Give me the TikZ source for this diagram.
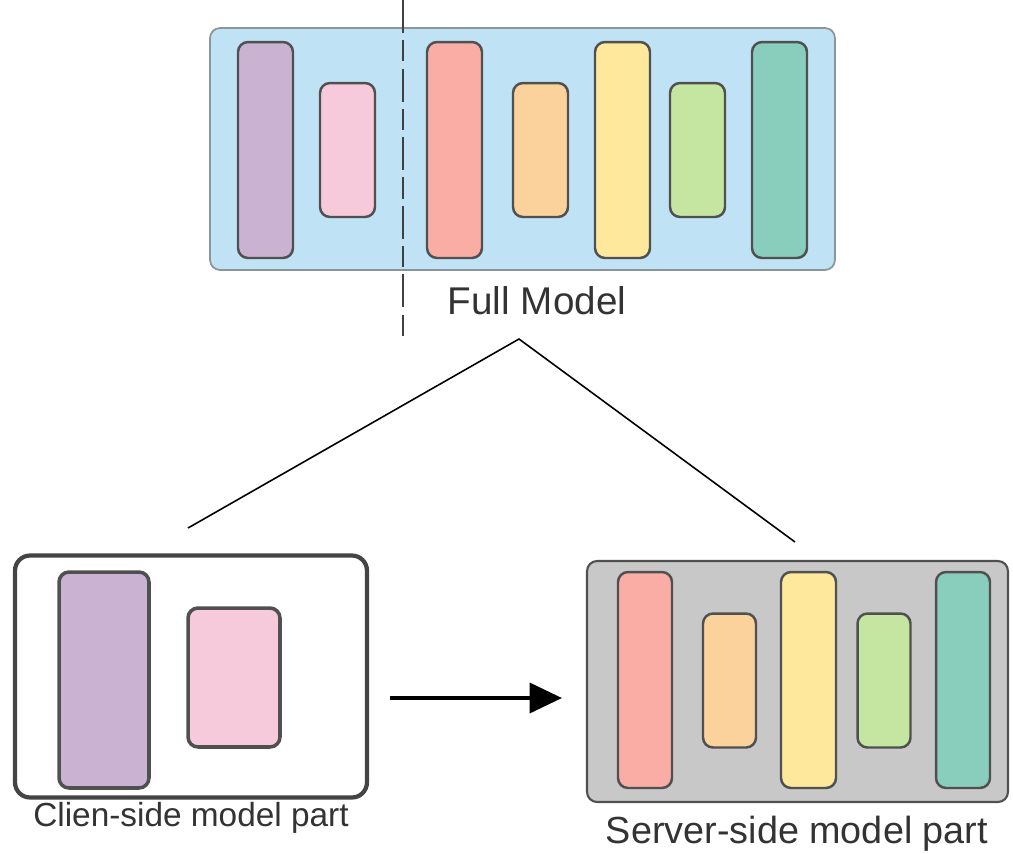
\documentclass[tikz,border=0pt]{standalone}
\usepackage{fontspec}
\setmainfont{Liberation Sans}
\usetikzlibrary{arrows.meta}

\definecolor{boxblue}{HTML}{BFE2F4}
\definecolor{boxgray}{HTML}{C8C8C8}
\definecolor{edgegray}{HTML}{505050}
\definecolor{lpurple}{HTML}{C9B2D2}
\definecolor{lpink}{HTML}{F6CADB}
\definecolor{lred}{HTML}{F9ADA5}
\definecolor{lorange}{HTML}{FBD19C}
\definecolor{lyellow}{HTML}{FEE89C}
\definecolor{lgreen}{HTML}{C5E6A0}
\definecolor{lteal}{HTML}{89CDBC}

\begin{document}
\begin{tikzpicture}[x = 0.02cm, y = -0.02cm, % pixel grid, y downwards
                > = {Triangle[length=6.5mm, width=6mm]}, % arrow head style
                semithick % line style
            ]

            \tikzstyle{every node}=[inner sep = 0pt, outer sep = 0pt,
            text = black!80]
            \tikzstyle{layer}=[draw = edgegray, line width = 1.4pt,
            rounded corners = 2mm, minimum width = 1.1cm]
            \tikzstyle{tall}=[layer, minimum height = 4.32cm]
            \tikzstyle{short}=[layer, minimum height = 2.68cm]
            \tikzstyle{model}=[rounded corners = 2mm, minimum height = 4.84cm]

            \useasboundingbox (0,0) rectangle (1013,853);

            % full model
            \node[model, draw = gray!90!cyan, line width = 1pt, fill = boxblue,
            minimum width = 12.5cm] (full) at (522.5,149) {};
            \node[tall, fill = lpurple] (f1) at (265.5,150) {};
            \node[short, fill = lpink] (f2) at (347.5,150) {};
            \node[tall, fill = lred] (f3) at (454.5,150) {};
            \node[short, fill = lorange] (f4) at (540.5,150) {};
            \node[tall, fill = lyellow] (f5) at (622.5,150) {};
            \node[short, fill = lgreen] (f6) at (697.5,150) {};
            \node[tall, fill = lteal] (f7) at (779.5,150) {};
            \node[font = \fontsize{22}{26}\selectfont] (fulltxt) at (537,301)
            {Full Model};

            % cut line
            \coordinate (cutTop) at (403,0); \coordinate (cutBot) at (403,340);
            \draw[line width = 0.8pt, black!75,
            dash pattern = on 19pt off 4pt on 12pt off 4pt] (cutTop) -- (cutBot);

            % split
            \coordinate (apex) at (519,339); \coordinate (cliEnd) at (188,528);
            \coordinate (srvEnd) at (795,542);
            \draw[line width = 0.9pt] (cliEnd) -- (apex) -- (srvEnd);

            % client side
            \node[model, draw = edgegray!85!black, line width = 2.4pt, fill = white,
            rounded corners = 3mm, minimum width = 7.04cm] (cli) at (191,676.5) {};
            \node[layer, fill = lpurple, minimum width = 1.8cm,
            minimum height = 4.32cm, line width = 2pt] (c1) at (104,680) {};
            \node[layer, fill = lpink, minimum width = 1.84cm,
            minimum height = 2.78cm, line width = 2pt] (c2) at (234,677.5) {};
            \node[font = \fontsize{19}{22}\selectfont] (clitxt) at (191,818)
            {Clien-side model part};

            % server side
            \node[model, draw = edgegray, line width = 1.2pt, fill = boxgray,
            minimum width = 8.42cm, minimum height = 4.82cm] (srv) at (797.5,681.5) {};
            \node[tall, fill = lred, minimum width = 1.08cm] (s1) at (645,680) {};
            \node[short, fill = lorange, minimum width = 1.06cm] (s2) at (729.5,680.5) {};
            \node[tall, fill = lyellow] (s3) at (808.5,680) {};
            \node[short, fill = lgreen, minimum width = 1.06cm] (s4) at (884,680.5) {};
            \node[tall, fill = lteal, minimum width = 1.08cm] (s5) at (963,680) {};
            \node[font = \fontsize{21.5}{26}\selectfont] (srvtxt) at (797,834)
            {Server-side model part};

            % hand over
            \coordinate (arrS) at (390,698); \coordinate (arrE) at (562,698);
            \draw[->, line width = 2.3pt] (arrS) -- (arrE);
        \end{tikzpicture}
\end{document}
